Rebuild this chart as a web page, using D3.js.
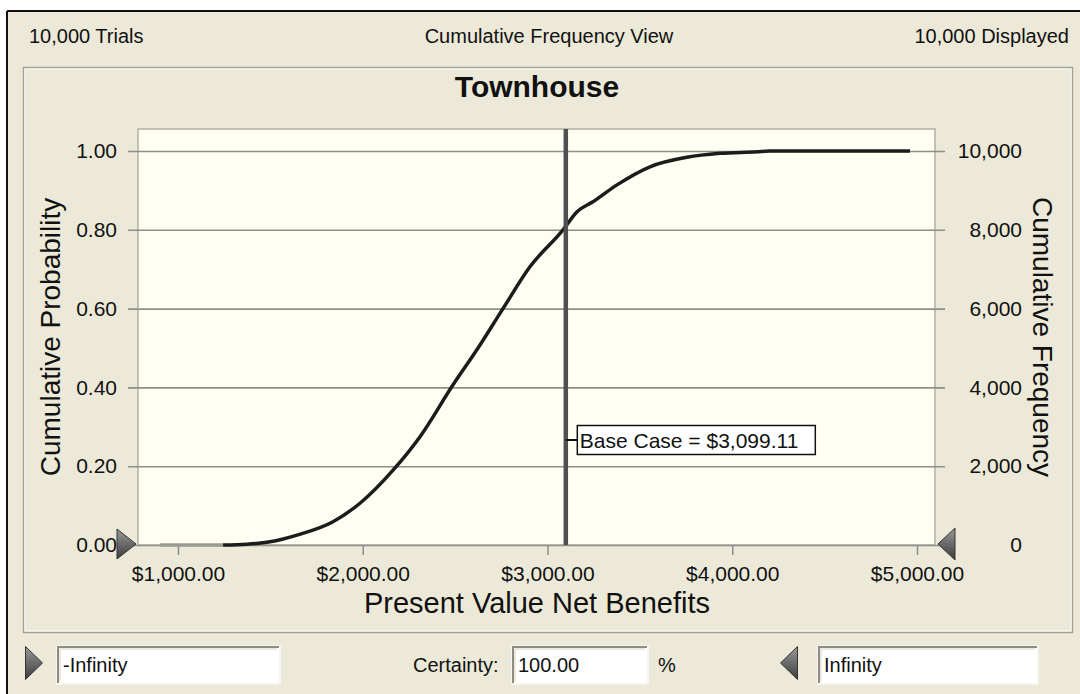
<!DOCTYPE html>
<html>
<head>
<meta charset="utf-8">
<script src="https://cdn.jsdelivr.net/npm/d3@7"></script>
<style>
  body { margin: 0; background: #fff; }
  text { font-family: "Liberation Sans", Arial, sans-serif; fill: #111; }
</style>
</head>
<body>
<svg id="chart" width="1080" height="694"></svg>
<script>
// values
const xTicks = [1000, 2000, 3000, 4000, 5000];
const probTicks = [0, 0.2, 0.4, 0.6, 0.8, 1.0];
const freqTicks = [0, 2000, 4000, 6000, 8000, 10000];
const tailValues = [903, 1244];
const tailProbs = [0, 0];
const curveValues = [1244, 1373, 1498, 1644, 1839, 1985, 2164, 2310, 2488, 2624, 2759, 2905, 3084, 3160, 3246, 3376, 3555, 3755, 3934, 4134, 4200, 4962];
const curveProbs = [0, 0.002, 0.008, 0.025, 0.059, 0.106, 0.19, 0.275, 0.406, 0.50, 0.60, 0.706, 0.80, 0.846, 0.871, 0.914, 0.96, 0.984, 0.994, 0.998, 1.0, 1.0];
const baseCase = 3099.11;
const trials = 10000;

const svg = d3.select("#chart");
const fmtMoney = d3.format("$,.2f");

// window + panel
svg.append("rect").attr("x", 7).attr("y", 11).attr("width", 1080).attr("height", 700)
    .attr("fill", "#ece9d8");
svg.append("line").attr("x1", 7).attr("x2", 1080).attr("y1", 11).attr("y2", 11)
    .attr("stroke", "#111").attr("stroke-width", 2);
svg.append("line").attr("x1", 7).attr("x2", 7).attr("y1", 11).attr("y2", 694)
    .attr("stroke", "#111").attr("stroke-width", 2);

svg.append("rect").attr("x", 23.5).attr("y", 67.5).attr("width", 1049).attr("height", 565)
    .attr("fill", "none").attr("stroke", "#a5a293").attr("stroke-width", 1.5);
svg.append("rect").attr("x", 25).attr("y", 69).attr("width", 1046).attr("height", 562)
    .attr("fill", "none").attr("stroke", "#fbfaf5").attr("stroke-width", 1);

// header
svg.append("text").attr("x", 29).attr("y", 43).style("font-size", "20px")
    .text(d3.format(",")(trials) + " Trials");
svg.append("text").attr("x", 549).attr("y", 43).attr("text-anchor", "middle").style("font-size", "20px")
    .text("Cumulative Frequency View");
svg.append("text").attr("x", 1069).attr("y", 43).attr("text-anchor", "end").style("font-size", "20px")
    .text(d3.format(",")(trials) + " Displayed");

svg.append("text").attr("x", 537).attr("y", 97).attr("text-anchor", "middle")
    .style("font-size", "30px").style("font-weight", "bold").text("Townhouse");

// scales
const plot = { left: 138, right: 935, top: 129, bottom: 545 };
const x = d3.scaleLinear().domain([1000, 5000]).range([178, 917]);
const y = d3.scaleLinear().domain([0, 1]).range([545, 151]);
const yF = d3.scaleLinear().domain([0, trials]).range([545, 151]);

svg.append("rect").attr("x", plot.left).attr("y", plot.top)
    .attr("width", plot.right - plot.left).attr("height", plot.bottom - plot.top)
    .attr("fill", "#fefef2").attr("stroke", "#b3b0a2").attr("stroke-width", 1.5);

// left axis with grid lines
const yAxis = svg.append("g").attr("transform", "translate(128,0)")
    .call(d3.axisLeft(y).tickValues(probTicks).tickFormat(d3.format(".2f"))
        .tickSize(-(945 - 128)).tickPadding(11));
yAxis.select(".domain").remove();
yAxis.selectAll("line").attr("stroke", "#8e8e8a").attr("stroke-width", 1.6);
yAxis.selectAll("text").style("font-size", "21px").attr("fill", "#111");

// right axis
const yAxisR = svg.append("g").attr("transform", "translate(945,0)")
    .call(d3.axisRight(yF).tickValues(freqTicks).tickFormat(d3.format(",")).tickSize(0));
yAxisR.select(".domain").remove();
yAxisR.selectAll("text").attr("x", 77).attr("text-anchor", "end")
    .style("font-size", "21px").attr("fill", "#111");

// bottom axis
const xAxis = svg.append("g").attr("transform", "translate(0,546)")
    .call(d3.axisBottom(x).tickValues(xTicks).tickFormat(fmtMoney).tickSize(9).tickPadding(11));
xAxis.select(".domain").remove();
xAxis.selectAll("line").attr("stroke", "#8e8e8a").attr("stroke-width", 1.5);
xAxis.selectAll("text").style("font-size", "21px").attr("fill", "#111");

// axis titles
svg.append("text").attr("x", 537).attr("y", 613).attr("text-anchor", "middle")
    .style("font-size", "29px").text("Present Value Net Benefits");
svg.append("text").attr("transform", "translate(60,337) rotate(-90)").attr("text-anchor", "middle")
    .style("font-size", "28px").text("Cumulative Probability");
svg.append("text").attr("transform", "translate(1033,337) rotate(90)").attr("text-anchor", "middle")
    .style("font-size", "28px").text("Cumulative Frequency");

// curve
const line = d3.line().x(d => x(d[0])).y(d => y(d[1])).curve(d3.curveMonotoneX);
svg.append("path").datum(d3.zip(tailValues, tailProbs)).attr("d", line)
    .attr("fill", "none").attr("stroke", "#9a9a94").attr("stroke-width", 3.5);
svg.append("path").datum(d3.zip(curveValues, curveProbs)).attr("d", line)
    .attr("fill", "none").attr("stroke", "#1c1c1c").attr("stroke-width", 3.5)
    .attr("stroke-linejoin", "round");

// base case marker
const bx = x(baseCase);
svg.append("line").attr("x1", bx).attr("x2", bx).attr("y1", plot.top).attr("y2", plot.bottom)
    .attr("stroke", "#4f4f4f").attr("stroke-width", 4.5);
svg.append("line").attr("x1", bx).attr("x2", bx + 12).attr("y1", 440).attr("y2", 440)
    .attr("stroke", "#111").attr("stroke-width", 2);
svg.append("rect").attr("x", bx + 11.5).attr("y", 425.5).attr("width", 238).attr("height", 29)
    .attr("fill", "#fff").attr("stroke", "#111").attr("stroke-width", 1.5);
svg.append("text").attr("x", bx + 14).attr("y", 448).style("font-size", "21px")
    .text("Base Case = " + fmtMoney(baseCase));

// grabber triangles
const defs = svg.append("defs");
const grad = defs.append("linearGradient").attr("id", "tri").attr("x1", 0).attr("y1", 0).attr("x2", 0).attr("y2", 1);
grad.append("stop").attr("offset", "0%").attr("stop-color", "#9a9a9a");
grad.append("stop").attr("offset", "50%").attr("stop-color", "#6a6a6a");
grad.append("stop").attr("offset", "100%").attr("stop-color", "#3c3c3c");

function triangle(cx, cy, dir, w, h) {
    const pts = dir > 0
        ? [[cx - w / 2, cy - h / 2], [cx + w / 2, cy], [cx - w / 2, cy + h / 2]]
        : [[cx + w / 2, cy - h / 2], [cx - w / 2, cy], [cx + w / 2, cy + h / 2]];
    svg.append("polygon").attr("points", pts.map(p => p.join(",")).join(" "))
        .attr("fill", "url(#tri)").attr("stroke", "#333").attr("stroke-width", 1);
}
triangle(126.5, 544, 1, 19, 30);
triangle(946.5, 544, -1, 17, 32);
triangle(34, 663, 1, 17, 33);
triangle(789, 663, -1, 17, 33);

// bottom controls
function field(x0, x1, txt) {
    svg.append("rect").attr("x", x0).attr("y", 646).attr("width", x1 - x0).attr("height", 38)
        .attr("fill", "#fff").attr("stroke", "#f6f5ef").attr("stroke-width", 2);
    svg.append("path").attr("d", `M${x0 + 1},683 V647 H${x1 - 1}`)
        .attr("fill", "none").attr("stroke", "#8f8c7e").attr("stroke-width", 2);
    svg.append("path").attr("d", `M${x0 + 3},681 V649 H${x1 - 3}`)
        .attr("fill", "none").attr("stroke", "#d6d3c6").attr("stroke-width", 1);
    svg.append("text").attr("x", x0 + 6).attr("y", 672).style("font-size", "20px").text(txt);
}
field(57, 280, "-Infinity");
svg.append("text").attr("x", 413).attr("y", 672).style("font-size", "20px").text("Certainty:");
field(512, 648, "100.00");
svg.append("text").attr("x", 658).attr("y", 672).style("font-size", "20px").text("%");
field(818, 1038, "Infinity");
</script>
</body>
</html>
